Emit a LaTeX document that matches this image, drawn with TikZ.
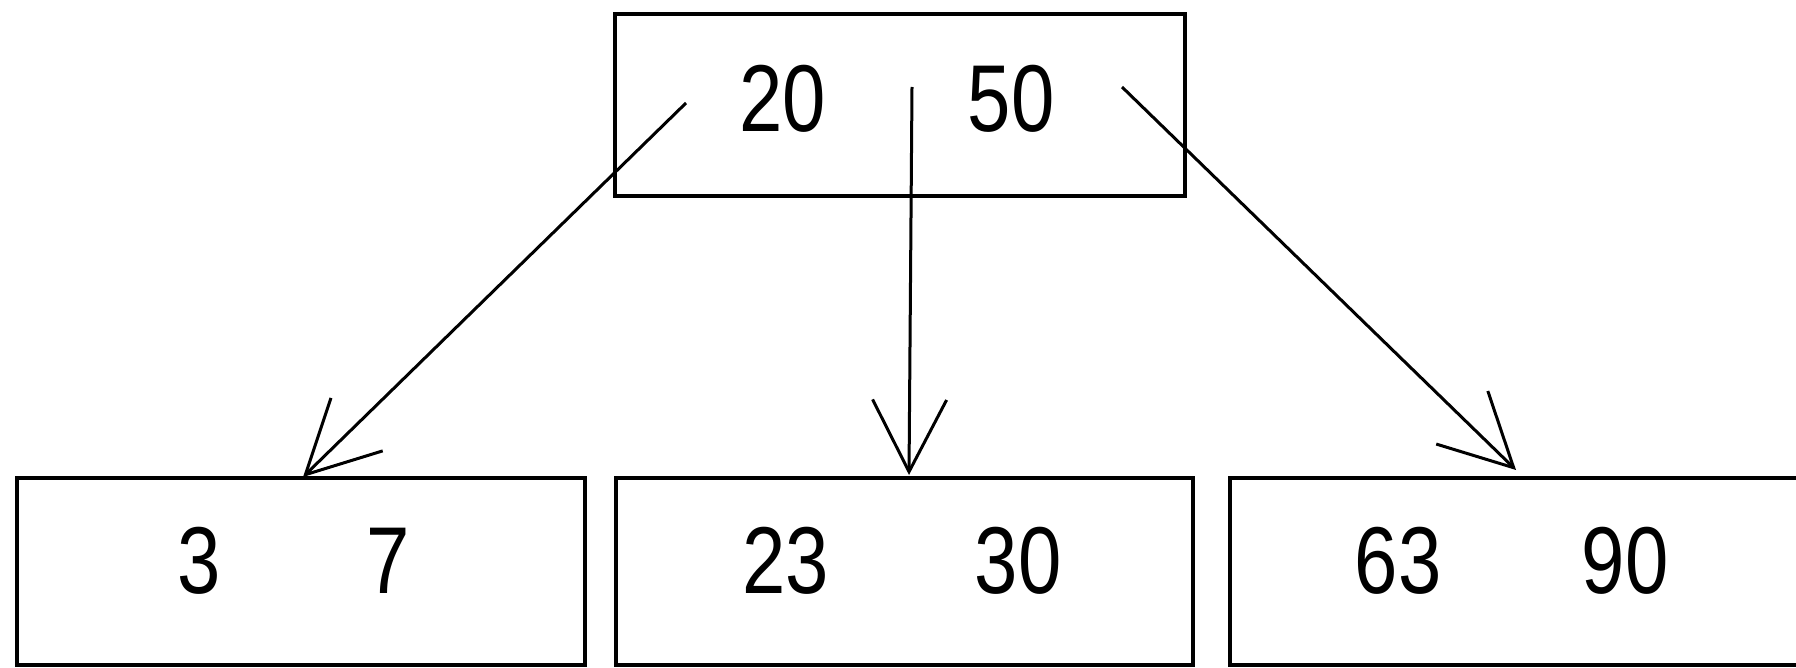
\documentclass[tikz,border=0pt]{standalone}
\usepackage{fontspec}
\setmainfont{Liberation Sans}
\usetikzlibrary{arrows.meta}
\newcommand\keytext[1]{\scalebox{0.82}[1]{#1}}
\begin{document}
\begin{tikzpicture}[x=1pt,y=-1pt,
  box/.style={draw,line width=4.5pt,inner sep=0pt},
  key/.style={anchor=base,inner sep=0pt,font=\fontsize{95}{95}\selectfont},
  link/.style={line width=3pt,-{Straight Barb[length=72pt,width=74pt]}}]
\useasboundingbox (0,0) rectangle (1796,668);
% boxes
\node[box,minimum width=570pt,minimum height=182pt] (root) at (900,105) {};
\node[box,minimum width=568pt,minimum height=187pt] (left) at (301,571.5) {};
\node[box,minimum width=577pt,minimum height=187pt] (mid) at (904.5,571.5) {};
\node[box,minimum width=580pt,minimum height=187pt] (right) at (1520,571.5) {};
% keys
\node[key] (k20) at (783,132) {\keytext{20}};
\node[key] (k50) at (1011,132) {\keytext{50}};
\node[key] (k3) at (199,593) {\keytext{3}};
\node[key] (k7) at (388,593) {\keytext{7}};
\node[key] (k23) at (786,593) {\keytext{23}};
\node[key] (k30) at (1018,593) {\keytext{30}};
\node[key] (k63) at (1398,593) {\keytext{63}};
\node[key] (k90) at (1625,593) {\keytext{90}};
% pointers
\coordinate (p1) at (686,103);
\coordinate (p2) at (912,87);
\coordinate (p3) at (1122,87);
\coordinate (c1) at (303,477);
\coordinate (c2) at (909,475);
\coordinate (c3) at (1516,470);
\draw[link] (p1) -- (c1);
\draw[link] (p2) -- (c2);
\draw[link] (p3) -- (c3);
\end{tikzpicture}
\end{document}
